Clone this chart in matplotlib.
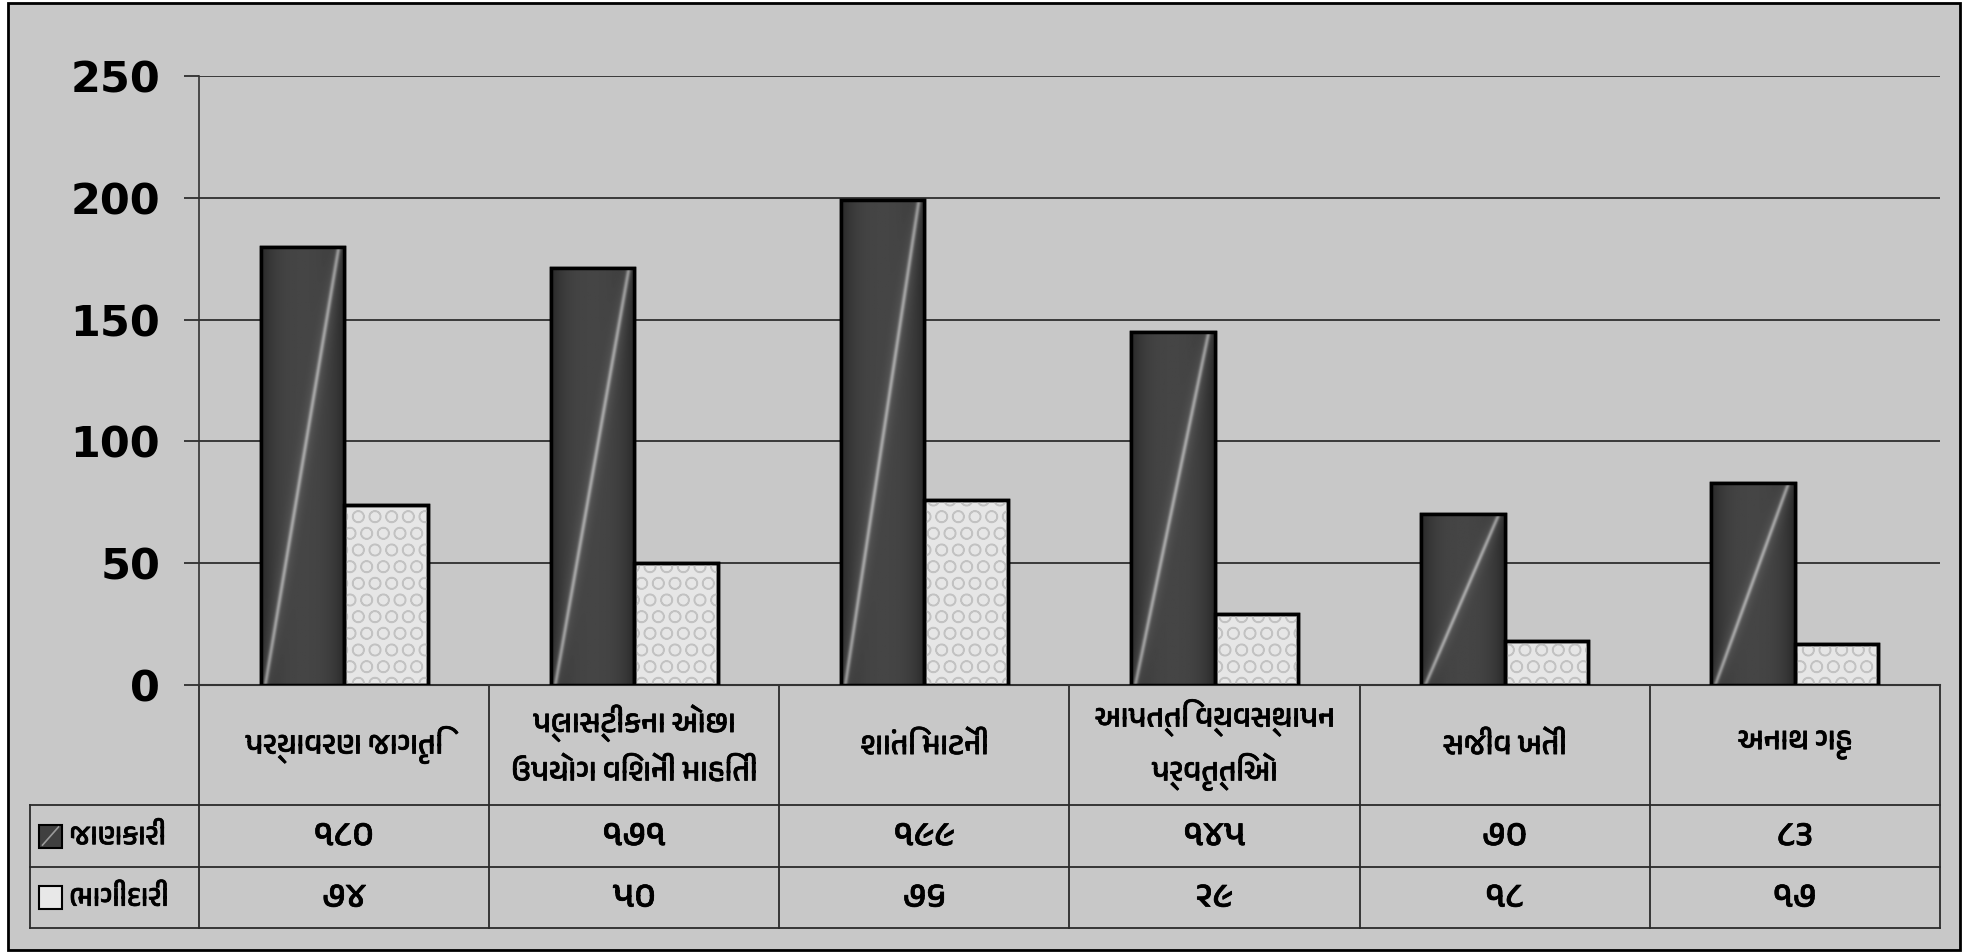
import numpy as np
import matplotlib
matplotlib.use("Agg")
import matplotlib.pyplot as plt
import matplotlib.patheffects as pe
from matplotlib import font_manager
from matplotlib.patches import Rectangle
from matplotlib.transforms import blended_transform_factory

# data
categories = ["પર્યાવરણ જાગૃતિ",
              "પ્લાસ્ટીકના ઓછા\nઉપયોગ વિશેની માહિતી",
              "શાંતિ માટેની",
              "આપત્તિ વ્યવસ્થાપન\nપ્રવૃત્તિઓ",
              "સજીવ ખેતી",
              "અનાથ ગૃહ"]
series_names = ["જાણકારી", "ભાગીદારી"]
jankari = [180, 171, 199, 145, 70, 83]
bhagidari = [74, 50, 76, 29, 18, 17]
yticks = [0, 50, 100, 150, 200, 250]

GUJ_DIGITS = str.maketrans("0123456789", "૦૧૨૩૪૫૬૭૮૯")


def find_gujarati_font():
    for f in font_manager.fontManager.ttflist:
        if "gujarati" in f.name.lower():
            return f.name
    try:
        from fontTools.ttLib import TTFont
    except ImportError:
        return None
    for f in font_manager.fontManager.ttflist:
        try:
            tt = TTFont(f.fname, fontNumber=0, lazy=True)
            cmap = tt.getBestCmap()
            if cmap and 0x0A9C in cmap:
                return f.name
        except Exception:
            pass
    return None


guj = find_gujarati_font()
guj_family = [guj, "DejaVu Sans"] if guj else ["Noto Sans", "DejaVu Sans"]
# thicken the Gujarati strokes a little, the original uses a heavier face
heavy = [pe.withStroke(linewidth=0.5, foreground="black")]

W, H = 1986, 952
fig = plt.figure(figsize=(W / 100, H / 100), dpi=100, facecolor="white")

# grey framed background
fig.patches.append(Rectangle((8 / W, 1 - 950 / H), (1960 - 8) / W, (950 - 3) / H,
                             transform=fig.transFigure, facecolor="#c8c8c8",
                             edgecolor="black", lw=2, zorder=-10))

ax = fig.add_axes([199 / W, 1 - 685 / H, (1940 - 199) / W, (685 - 76) / H])
ax.set_facecolor("none")

x = np.arange(len(categories))
bw = 0.288

dark = ax.bar(x - bw / 2, jankari, bw, color="#404040", edgecolor="black",
              linewidth=2.5, zorder=3)
light = ax.bar(x + bw / 2, bhagidari, bw, color="#e6e6e6", edgecolor="black",
               linewidth=2.5, zorder=3)
ax.bar(x + bw / 2, bhagidari, bw, fill=False, hatch="O", edgecolor="#c2c2c2",
       linewidth=0, zorder=3.1)
ax.bar(x + bw / 2, bhagidari, bw, fill=False, edgecolor="black",
       linewidth=2.5, zorder=3.2)

# dark bar shading: dark edges and a light diagonal streak
nx, ny = 160, 400
U, V = np.meshgrid(np.linspace(0, 1, nx), np.linspace(0, 1, ny))
d = U - (0.05 + 0.88 * V)
shade = (0.27 - 0.11 * (np.abs(U - 0.5) * 2) ** 3
         + 0.33 * np.exp(-(d / 0.025) ** 2) + 0.06 * np.exp(-(d / 0.09) ** 2))
shade = np.clip(shade, 0, 1)
for p in dark:
    x0, w, h = p.get_x(), p.get_width(), p.get_height()
    im = ax.imshow(shade, cmap="gray", vmin=0, vmax=1, origin="lower",
                   extent=(x0, x0 + w, 0, h), aspect="auto",
                   interpolation="bilinear", zorder=3.05)
    im.set_clip_path(p)
    ax.add_patch(Rectangle((x0, 0), w, h, fill=False, edgecolor="black",
                           linewidth=2.5, zorder=3.2))

ax.set_xlim(-0.5, len(categories) - 0.5)
ax.set_ylim(0, 250)
ax.set_yticks(yticks)
ax.set_yticklabels([str(t) for t in yticks], fontsize=31, fontweight="bold",
                   family="DejaVu Sans")
ax.tick_params(axis="y", direction="out", length=11, width=1.2, color="#222222",
               pad=17)
ax.set_xticks([])
ax.grid(axis="y", color="#222222", linewidth=1.2, zorder=1)
ax.set_axisbelow(True)
for s in ["top", "right"]:
    ax.spines[s].set_visible(False)
ax.spines["left"].set_color("#333333")
ax.spines["left"].set_linewidth(1.2)
ax.spines["bottom"].set_color("#333333")
ax.spines["bottom"].set_linewidth(1.5)

# data table under the plot
tr = blended_transform_factory(ax.transData, ax.transAxes)
row1, row2, row3 = -0.197, -0.299, -0.399
leg_left = -0.097
line_kw = dict(color="#2a2a2a", linewidth=1.3, clip_on=False, zorder=2)
for k in range(len(categories) + 1):
    ax.plot([k - 0.5, k - 0.5], [0, row3], transform=tr, **line_kw)
for r in (row1, row2, row3):
    ax.plot([leg_left, 1], [r, r], transform=ax.transAxes, **line_kw)
ax.plot([leg_left, leg_left], [row1, row3], transform=ax.transAxes, **line_kw)

for i, c in enumerate(categories):
    ax.text(i, -0.0985, c, transform=tr, ha="center", va="center",
            fontsize=22, fontweight="bold", family=guj_family,
            linespacing=1.6, path_effects=heavy)
    ax.text(i, (row1 + row2) / 2, str(jankari[i]).translate(GUJ_DIGITS),
            transform=tr, ha="center", va="center", fontsize=26,
            fontweight="bold", family=guj_family, path_effects=heavy)
    ax.text(i, (row2 + row3) / 2, str(bhagidari[i]).translate(GUJ_DIGITS),
            transform=tr, ha="center", va="center", fontsize=26,
            fontweight="bold", family=guj_family, path_effects=heavy)

# legend keys inside the table
key_w, key_h = 0.0132, 0.0378
for (name, fc, yc) in [(series_names[0], "#404040", (row1 + row2) / 2),
                       (series_names[1], "#e8e8e8", (row2 + row3) / 2)]:
    ax.add_patch(Rectangle((-0.0919, yc - key_h / 2), key_w, key_h,
                           transform=ax.transAxes, facecolor=fc,
                           edgecolor="black", linewidth=1.5, clip_on=False))
    ax.text(-0.0745, yc, name, transform=ax.transAxes, ha="left", va="center",
            fontsize=21, fontweight="bold", family=guj_family,
            path_effects=heavy)
# diagonal mark on the dark key
yk = (row1 + row2) / 2
ax.plot([-0.0919 + 0.002, -0.0919 + key_w - 0.002],
        [yk - key_h / 2 + 0.004, yk + key_h / 2 - 0.004],
        transform=ax.transAxes, color="#9a9a9a", linewidth=1.2, clip_on=False)

fig.savefig("out.png", dpi=100, facecolor=fig.get_facecolor())
